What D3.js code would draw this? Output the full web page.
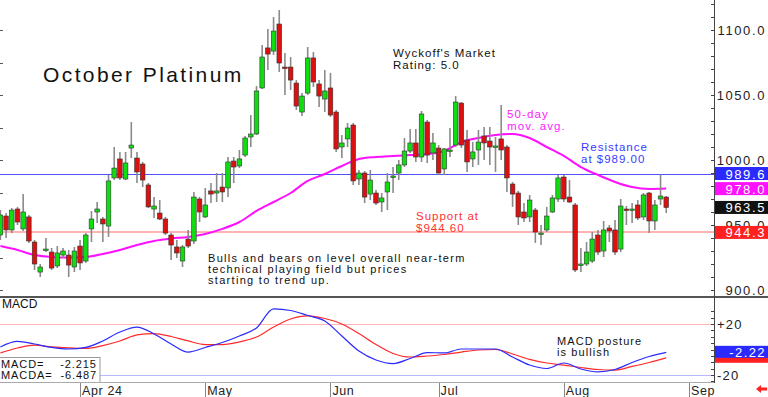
<!DOCTYPE html>
<html><head><meta charset="utf-8">
<script src="https://cdn.jsdelivr.net/npm/d3@7"></script>
<style>
html,body{margin:0;padding:0;background:#fff;}
svg text{font-family:"Liberation Sans",Arial,sans-serif;}
</style></head>
<body><svg id="c" width="768" height="397"></svg>
<script>
// ---- data (trading-day index 0 = mid-March 2024) ----
const opens  = [942.3,956.9,946.2,962.3,947.0,956.2,936.9,913.8,930.8,929.2,918.5,926.9,926.9,917.7,933.8,922.3,947.0,960.0,954.6,949.2,986.2,1000.8,985.4,1009.2,1001.5,996.9,980.8,962.3,959.2,954.6,942.3,933.1,922.3,939.2,937.7,970.0,956.2,976.2,974.6,979.2,978.5,999.2,995.4,1003.8,1017.7,1020.0,1055.4,1086.2,1083.8,1104.6,1071.5,1071.5,1059.2,1036.9,1051.5,1078.5,1058.5,1046.9,1055.4,1036.9,1010.0,1016.2,1026.9,985.4,990.0,973.8,974.6,967.7,975.4,987.3,990.0,996.2,1006.9,1013.1,1002.3,1029.2,1005.4,1009.2,993.1,1006.9,1011.5,1043.8,1015.4,1000.8,1007.7,1018.5,1014.6,1010.4,1016.2,1010.0,981.5,974.6,960.0,956.2,961.5,943.5,946.2,960.0,970.0,986.9,971.5,965.4,919.2,920.0,922.3,942.3,930.0,947.7,946.2,931.5,962.3,961.9,965.4,956.2,974.6,953.1,970.0,971.5];
const highs  = [961.5,959.2,963.1,963.9,973.8,957.7,938.5,920.0,940.0,932.3,933.8,932.3,930.8,933.1,938.5,943.8,960.8,967.7,956.2,988.5,1010.0,1006.2,1006.2,1029.2,1006.2,998.5,982.3,971.5,969.2,956.2,943.8,938.5,934.6,946.2,975.4,971.5,978.5,982.3,990.0,990.0,1002.3,1002.3,1007.7,1018.5,1034.6,1056.9,1088.5,1100.8,1110.0,1115.4,1082.3,1079.2,1061.5,1051.5,1086.9,1083.1,1061.5,1069.2,1067.0,1038.5,1019.2,1028.5,1028.5,992.3,991.5,992.3,976.9,974.6,990.0,994.6,1000.0,1016.9,1023.8,1023.8,1037.7,1030.8,1020.8,1011.5,1009.2,1024.6,1049.2,1044.6,1023.1,1013.8,1023.1,1025.4,1025.4,1017.7,1042.3,1011.5,983.1,976.2,966.9,973.1,963.1,950.0,963.9,973.1,988.5,988.5,984.6,966.9,932.3,936.9,944.6,946.2,953.1,950.0,953.8,970.0,964.6,966.9,969.2,974.6,975.4,969.2,988.8,972.3];
const lows   = [938.5,940.0,943.8,950.0,945.4,936.2,915.4,910.0,929.2,915.4,916.9,924.6,910.0,913.8,915.4,920.8,936.9,951.5,936.9,940.8,984.6,984.6,984.6,1001.5,982.3,979.2,963.1,955.4,953.8,942.3,923.1,924.6,917.7,932.3,935.4,952.3,955.4,966.9,967.7,967.7,971.5,982.3,993.8,1002.3,1010.0,1019.2,1054.6,1069.2,1080.8,1067.7,1050.0,1053.8,1038.5,1033.8,1050.0,1056.2,1040.8,1036.9,1033.1,1006.2,1001.5,1010.0,980.8,980.8,966.9,969.2,965.4,960.0,961.5,974.6,984.6,994.6,1005.4,998.5,998.5,997.7,1000.0,988.5,988.5,1002.3,1010.0,1009.2,990.8,994.6,996.2,1000.0,996.2,990.8,1000.0,975.4,963.9,950.0,952.3,952.3,936.2,934.6,944.6,959.2,967.7,967.7,966.9,913.8,913.8,918.5,920.8,926.9,925.4,936.9,926.9,929.2,950.0,951.5,953.8,953.8,943.8,946.2,965.4,959.2];
const closes = [957.7,946.2,961.5,952.3,960.0,937.7,920.0,917.7,931.5,916.9,928.5,930.0,919.2,930.0,920.8,942.3,954.6,962.3,950.8,983.9,993.8,986.2,997.7,1011.5,990.8,984.6,963.9,964.6,954.6,943.8,934.6,928.5,933.1,933.8,971.5,960.0,965.4,973.8,976.2,975.4,998.5,994.6,1000.8,1016.9,1020.0,1053.1,1079.2,1081.5,1099.2,1074.6,1071.2,1061.5,1041.5,1049.2,1078.5,1060.0,1049.2,1053.1,1034.6,1008.5,1013.1,1024.6,983.9,990.0,971.5,984.6,966.9,970.8,983.1,987.7,996.2,1006.9,1013.1,1002.3,1035.4,1003.8,1013.1,990.0,1008.5,1007.7,1044.6,1011.5,998.5,1006.2,1013.8,1013.1,1010.0,1010.8,1007.7,986.2,973.8,956.2,955.4,969.2,944.6,943.8,956.9,970.8,986.2,970.0,967.7,915.4,920.0,929.2,939.2,929.2,946.2,945.4,929.2,964.6,961.9,962.3,955.4,973.1,953.1,965.4,972.3,963.5];

// 50-day moving average, read every 3rd trading day
const maIndex  = [0,3,6,9,12,15,18,21,24,27,30,33,36,39,42,45,48,51,54,57,60,63,66,69,72,75,78,81,84,87,90,93,96,99,102,105,108,111,114,117];
const maValues = [933.8,930.8,926.9,925.4,925.0,925.4,927.7,930.8,934.6,937.7,939.6,940.8,943.1,947.0,952.3,960.8,967.7,974.6,983.9,989.2,995.4,1000.8,1002.3,1003.1,1003.8,1004.6,1006.9,1013.8,1016.9,1019.2,1020.0,1016.9,1010.0,1003.1,994.6,988.5,983.1,979.2,977.7,978.0];
// MACD and signal (MACDA), same indices
const macdValues  = [2.0,6.3,4.3,1.6,0.4,1.6,6.7,13.7,17.6,12.2,4.3,-2.0,1.6,5.5,10.6,16.9,31.8,30.6,26.7,22.4,10.6,-1.2,-8.2,-11.0,-7.1,-2.4,-2.7,0.4,0.4,0.4,-5.9,-12.2,-14.9,-10.6,-15.3,-17.6,-15.7,-10.2,-5.5,-2.22];
const macdaValues = [-2.7,1.2,3.5,2.0,1.2,0.8,3.1,6.7,11.4,12.5,10.2,6.7,3.9,3.9,5.9,9.8,17.6,23.9,26.3,24.3,20.0,12.5,3.9,-3.1,-5.9,-5.1,-3.9,-2.0,-0.4,0.0,-3.5,-7.8,-10.6,-12.2,-14.1,-15.7,-16.1,-13.3,-10.2,-6.49];

const monthLabels = ["Apr 24","May","Jun","Jul","Aug","Sep"];
const monthIndex  = [14,36,58,77,99,121];
const priceTicks  = [900,950,1000,1050,1100];
const macdTicks   = [20,-20];
const resistance = 989.6, supportLine = 944.6, support = 944.3, maLast = 978.0, lastClose = 963.5;

// ---- layout ----
const svg = d3.select("#c");
const axisX = 714;
const x = d3.scaleLinear().domain([0,121]).range([0.4,689]);
const y = d3.scaleLinear().domain([900,1100]).range([290,30]);
const ym = d3.scaleLinear().domain([-20,20]).range([375,324]);
const crisp = v => Math.round(v)+0.5;

// horizontal reference lines
svg.append("line").attr("x1",0).attr("x2",axisX).attr("y1",crisp(y(resistance))).attr("y2",crisp(y(resistance))).attr("stroke","#5050ff").attr("stroke-width",1);
svg.append("line").attr("x1",0).attr("x2",axisX).attr("y1",y(supportLine)).attr("y2",y(supportLine)).attr("stroke","#ff9a9a").attr("stroke-width",1.5);

// left edge ticks
d3.range(900,1101,25).forEach(v=>{
  svg.append("line").attr("x1",0).attr("x2",3).attr("y1",crisp(y(v))).attr("y2",crisp(y(v))).attr("stroke","#555");
});

// moving average
const maLine = d3.line().x((d,i)=>x(maIndex[i])).y(d=>y(d)).curve(d3.curveMonotoneX);
svg.append("path").datum(maValues).attr("d",maLine).attr("fill","none").attr("stroke","#ff10ff").attr("stroke-width",2);

// candles
const idx = d3.range(opens.length);
const g = svg.append("g");
g.selectAll("line.w").data(idx).join("line")
  .attr("x1",i=>x(i)).attr("x2",i=>x(i))
  .attr("y1",i=>y(highs[i])).attr("y2",i=>y(lows[i]))
  .attr("stroke","#8a8a8a").attr("stroke-width",1.6);
g.selectAll("rect.b").data(idx).join("rect")
  .attr("x",i=>x(i)-2.3).attr("width",4.6)
  .attr("y",i=>y(Math.max(opens[i],closes[i])))
  .attr("height",i=>Math.max(1.5,Math.abs(y(opens[i])-y(closes[i]))))
  .attr("fill",i=>closes[i]>=opens[i]?"#10dd10":"#dd1010")
  .attr("stroke","#333").attr("stroke-width",0.6);

// panel separator
svg.append("line").attr("x1",0).attr("x2",768).attr("y1",297).attr("y2",297).attr("stroke","#555").attr("stroke-width",2);

// right axis
svg.append("line").attr("x1",axisX+0.5).attr("x2",axisX+0.5).attr("y1",0).attr("y2",383).attr("stroke","#444").attr("stroke-width",1);
d3.range(890,1121,10).forEach(v=>{
  if (y(v)>0 && y(v)<296) svg.append("line").attr("x1",axisX-3).attr("x2",axisX).attr("y1",crisp(y(v))).attr("y2",crisp(y(v))).attr("stroke","#444");
});
const yAxis = svg.append("g");
yAxis.selectAll("text").data(priceTicks).join("text")
  .attr("x",766).attr("y",d=>y(d)+5).attr("text-anchor","end")
  .attr("font-size",13).attr("letter-spacing",1.6).attr("fill","#222")
  .text(d=>d.toFixed(1));

function valBox(v, yy, col){
  svg.append("rect").attr("x",axisX+1).attr("y",yy-6.5).attr("width",768-axisX-1).attr("height",13).attr("fill",col);
  svg.append("text").attr("x",766).attr("y",yy+5).attr("text-anchor","end").attr("font-size",13).attr("letter-spacing",1.6).attr("fill","#fff").text(v);
}
valBox(resistance.toFixed(1), y(resistance), "#2a2aff");
valBox(maLast.toFixed(1), y(maLast), "#ff10ff");
valBox(lastClose.toFixed(1), y(lastClose), "#111");
valBox(support.toFixed(1), y(support), "#ff2020");

// annotations
function multi(lines, x0, y0, dy, size, col, ls){
  const t = svg.append("text").attr("x",x0).attr("y",y0).attr("font-size",size).attr("fill",col).attr("letter-spacing",ls).attr("xml:space","preserve");
  lines.forEach((s,k)=>t.append("tspan").attr("x",x0).attr("y",y0+k*dy).text(s));
  return t;
}
svg.append("text").attr("x",43).attr("y",82).attr("font-size",21).attr("letter-spacing",2.4).attr("fill","#111").text("October Platinum");
multi(["Wyckoff's Market","Rating: 5.0"],393,57,11.5,11.5,"#111",1);
multi(["50-day","mov. avg."],507,118,12,11.5,"#ff20ff",1.1);
multi(["Resistance","at $989.00"],581,151,11.5,11.5,"#3a3aff",1);
multi(["Support at","$944.60"],416,220,11.5,11.5,"#ff3030",1);
multi(["Bulls and bears on level overall near-term","technical playing field but prices","starting to trend up."],208,262,11,11,"#111",1.3);

// MACD panel
svg.append("line").attr("x1",0).attr("x2",axisX).attr("y1",crisp(ym(20))).attr("y2",crisp(ym(20))).attr("stroke","#ffb4b4");
svg.append("line").attr("x1",0).attr("x2",axisX).attr("y1",crisp(ym(-20))).attr("y2",crisp(ym(-20))).attr("stroke","#b8b8ff");
d3.range(-25,31,5).forEach(v=>{
  if (ym(v)>299 && ym(v)<382) svg.append("line").attr("x1",axisX-3).attr("x2",axisX).attr("y1",crisp(ym(v))).attr("y2",crisp(ym(v))).attr("stroke","#444");
});
const mLine = d3.line().x((d,i)=>x(maIndex[i])).y(d=>ym(d)).curve(d3.curveMonotoneX);
svg.append("path").datum(macdaValues).attr("d",mLine).attr("fill","none").attr("stroke","#ff2a2a").attr("stroke-width",1.2);
svg.append("path").datum(macdValues).attr("d",mLine).attr("fill","none").attr("stroke","#2a2aff").attr("stroke-width",1.2);
svg.append("text").attr("x",2).attr("y",308).attr("font-size",12).attr("fill","#111").text("MACD");
multi(["MACD posture","is bullish"],557,345,11,11,"#111",1.1);
svg.selectAll("text.mt").data(macdTicks).join("text")
  .attr("x",717).attr("y",d=>ym(d)+5).attr("font-size",13).attr("letter-spacing",1.2).attr("fill","#222")
  .text(d=>(d>0?"+":"-")+Math.abs(d));
// value boxes
svg.append("rect").attr("x",axisX+1).attr("y",ym(-6.49)-4).attr("width",768-axisX-1).attr("height",9).attr("fill","#ff2020");
svg.append("rect").attr("x",axisX+1).attr("y",ym(-2.22)-6.5).attr("width",768-axisX-1).attr("height",12).attr("fill","#2a2aff");
svg.append("text").attr("x",766).attr("y",ym(-2.22)+4.5).attr("text-anchor","end").attr("font-size",13).attr("letter-spacing",1.4).attr("fill","#fff").text((-2.22).toFixed(2));
// readout box
svg.append("rect").attr("x",-1).attr("y",357.5).attr("width",101).attr("height",25).attr("fill","#fff").attr("stroke","#999");
multi(["MACD=    -2.215","MACDA=  -6.487"],1,368,11,11,"#111",0.9).style("white-space","pre");

// bottom axis
svg.append("line").attr("x1",0).attr("x2",axisX).attr("y1",382.5).attr("y2",382.5).attr("stroke","#aaa");
const xa = svg.append("g");
xa.selectAll("line").data(monthIndex).join("line")
  .attr("x1",d=>crisp(x(d))).attr("x2",d=>crisp(x(d))).attr("y1",383).attr("y2",397).attr("stroke","#888");
xa.selectAll("text").data(monthIndex).join("text")
  .attr("x",d=>x(d)+2).attr("y",395).attr("font-size",12.5).attr("letter-spacing",0.6).attr("fill","#222")
  .text((d,i)=>monthLabels[i]);
// red arrow
svg.append("path").attr("d","M756,389 L761,385 L761,387.5 L767,387.5 L767,390.5 L761,390.5 L761,393 Z").attr("fill","#ff2020");
</script></body></html>
